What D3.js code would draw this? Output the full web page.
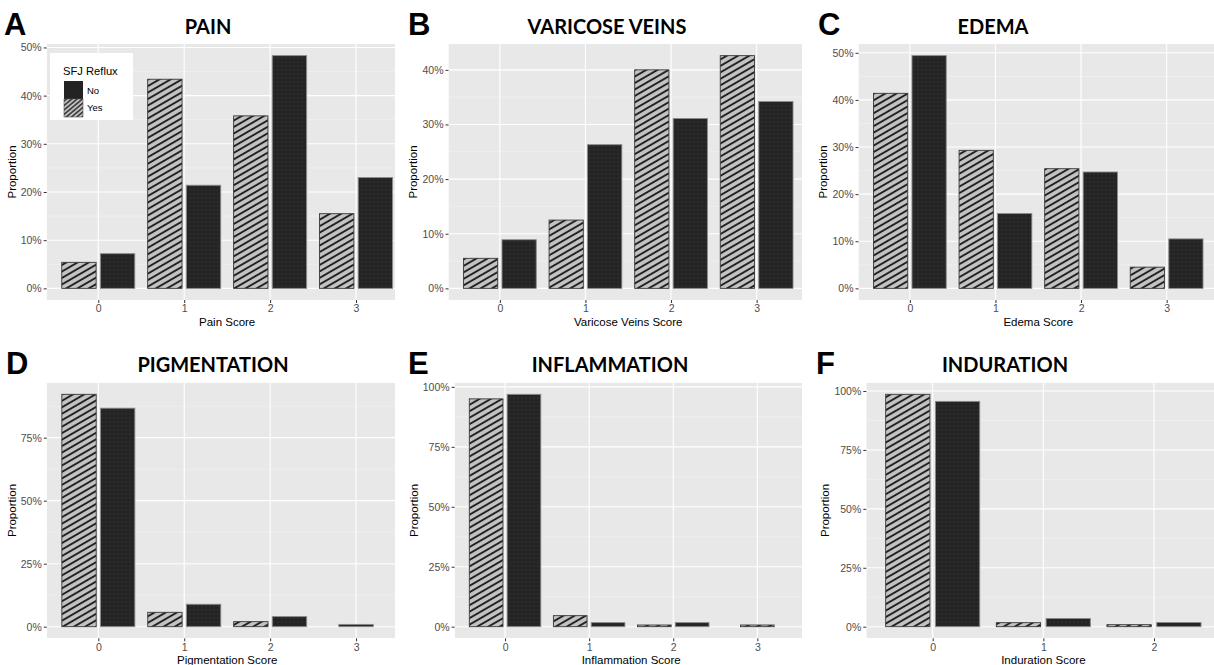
<!DOCTYPE html>
<html>
<head>
<meta charset="utf-8">
<title>SFJ Reflux scores</title>
<script src="https://d3js.org/d3.v7.min.js"></script>
<style>
body { margin: 0; background: #fff; }
svg { display: block; font-family: "Liberation Sans", Arial, sans-serif; }
.tick text { fill: #4d4d4d; font-size: 10.5px; font-family: "Liberation Sans", Arial, sans-serif; }
.tick line { stroke: #333; }
.title { font-family: Lato, "Open Sans", sans-serif; font-weight: 700; font-size: 20px; }
.letter { font-weight: 700; font-size: 31px; }
.axtitle { font-size: 11.5px; fill: #000; }
</style>
</head>
<body>
<script>
// data (percent of limbs)
var groups = ["Yes", "No"];
var scores4 = ["0", "1", "2", "3"];
var scores3 = ["0", "1", "2"];

var painYes = [5.4, 43.4, 35.8, 15.5];
var painNo = [7.2, 21.4, 48.3, 23.0];
var veinsYes = [5.5, 12.5, 40.0, 42.6];
var veinsNo = [8.9, 26.3, 31.1, 34.2];
var edemaYes = [41.4, 29.3, 25.4, 4.5];
var edemaNo = [49.4, 15.9, 24.7, 10.5];
var pigYes = [92.2, 5.7, 2.0, null];
var pigNo = [86.7, 8.9, 4.0, 0.9];
var inflYes = [95.0, 4.6, 0.7, 0.7];
var inflNo = [96.9, 1.7, 1.7, null];
var indYes = [98.6, 1.7, 0.85];
var indNo = [95.6, 3.5, 1.8];

var ticks50 = [0, 10, 20, 30, 40, 50];
var ticks40 = [0, 10, 20, 30, 40];
var ticks75 = [0, 25, 50, 75];
var ticks100 = [0, 25, 50, 75, 100];

// layout of the six panels
var panels = [
  {letter: "A", title: "PAIN", xlab: "Pain Score", cats: scores4, yes: painYes, no: painNo, ticks: ticks50,
   x0: 46.7, x1: 407.6, clip: 395, top: 44, bottom: 300, titleX: 208, letterX: 4, legend: true},
  {letter: "B", title: "VARICOSE VEINS", xlab: "Varicose Veins Score", cats: scores4, yes: veinsYes, no: veinsNo, ticks: ticks40,
   x0: 448.5, x1: 808, clip: 802, top: 44, bottom: 300, titleX: 607, letterX: 408},
  {letter: "C", title: "EDEMA", xlab: "Edema Score", cats: scores4, yes: edemaYes, no: edemaNo, ticks: ticks50,
   x0: 858.5, x1: 1218, clip: 1214, top: 44, bottom: 300, titleX: 993, letterX: 818},
  {letter: "D", title: "PIGMENTATION", xlab: "Pigmentation Score", cats: scores4, yes: pigYes, no: pigNo, ticks: ticks75,
   x0: 46.8, x1: 407.6, clip: 395, top: 382.7, bottom: 638.3, titleX: 213, letterX: 6},
  {letter: "E", title: "INFLAMMATION", xlab: "Inflammation Score", cats: scores4, yes: inflYes, no: inflNo, ticks: ticks100,
   x0: 454.6, x1: 807.8, clip: 802, top: 382.7, bottom: 638.3, titleX: 610, letterX: 408},
  {letter: "F", title: "INDURATION", xlab: "Induration Score", cats: scores3, yes: indYes, no: indNo, ticks: ticks100,
   x0: 866.3, x1: 1220.4, clip: 1214, top: 382.7, bottom: 638.3, titleX: 1005, letterX: 816}
];

var width = 1214, height = 665;
var svg = d3.select("body").append("svg")
  .attr("width", width)
  .attr("height", height);

var defs = svg.append("defs");

var hatch = defs.append("pattern")
  .attr("id", "hatch")
  .attr("patternUnits", "userSpaceOnUse")
  .attr("width", 5.6).attr("height", 5.6)
  .attr("patternTransform", "rotate(-30)");
hatch.append("rect").attr("width", 5.6).attr("height", 5.6).attr("fill", "#c3c3c3");
hatch.append("rect").attr("y", 2).attr("width", 5.6).attr("height", 1.8).attr("fill", "#161616");

var hatchKey = defs.append("pattern")
  .attr("id", "hatchKey")
  .attr("patternUnits", "userSpaceOnUse")
  .attr("width", 3.4).attr("height", 3.4)
  .attr("patternTransform", "rotate(-40)");
hatchKey.append("rect").attr("width", 3.4).attr("height", 3.4).attr("fill", "#c3c3c3");
hatchKey.append("rect").attr("y", 1).attr("width", 3.4).attr("height", 1.3).attr("fill", "#1a1a1a");

var dots = defs.append("pattern")
  .attr("id", "dots")
  .attr("patternUnits", "userSpaceOnUse")
  .attr("width", 4).attr("height", 4);
dots.append("rect").attr("width", 4).attr("height", 4).attr("fill", "#242424");
dots.append("circle").attr("cx", 2).attr("cy", 2).attr("r", 0.7).attr("fill", "#3a3a3a");

var fills = {Yes: "url(#hatch)", No: "url(#dots)"};
var strokes = {Yes: "#3a3a3a", No: "#8a8a8a"};

panels.forEach(function(p, pi) {
  var g = svg.append("g");

  var x = d3.scalePoint()
    .domain(p.cats)
    .range([p.x0, p.x1])
    .padding(0.6);
  var step = x.step();

  var maxVal = d3.max(p.yes.concat(p.no));
  var y = d3.scaleLinear()
    .domain([-0.05 * maxVal, 1.05 * maxVal])
    .range([p.bottom, p.top]);

  // dodge inside one category
  var dodge = d3.scaleBand()
    .domain(groups)
    .range([-0.425 * step, 0.425 * step])
    .paddingInner(0.111);
  var bw = dodge.bandwidth();

  defs.append("clipPath").attr("id", "clip" + pi)
    .append("rect")
    .attr("x", p.x0).attr("y", p.top)
    .attr("width", p.clip - p.x0).attr("height", p.bottom - p.top);

  var plot = g.append("g").attr("clip-path", "url(#clip" + pi + ")");

  plot.append("rect")
    .attr("x", p.x0).attr("y", p.top)
    .attr("width", p.x1 - p.x0).attr("height", p.bottom - p.top)
    .attr("fill", "#e8e8e8");

  // minor grid between major ticks
  var minor = [];
  var tstep = p.ticks[1] - p.ticks[0];
  for (var k = 0; k <= p.ticks.length; k++) {
    var v = p.ticks[0] + (k - 0.5) * tstep;
    if (v > y.domain()[0] && v < y.domain()[1]) minor.push(v);
  }
  plot.selectAll(".minor").data(minor).enter().append("line")
    .attr("x1", p.x0).attr("x2", p.x1)
    .attr("y1", function(d) { return y(d); })
    .attr("y2", function(d) { return y(d); })
    .attr("stroke", "#f4f4f4").attr("stroke-width", 0.6);

  var majors = p.ticks.filter(function(d) { return d <= y.domain()[1]; });
  plot.selectAll(".major").data(majors).enter().append("line")
    .attr("x1", p.x0).attr("x2", p.x1)
    .attr("y1", function(d) { return y(d); })
    .attr("y2", function(d) { return y(d); })
    .attr("stroke", "#fff").attr("stroke-width", 1.1);

  plot.selectAll(".vgrid").data(p.cats).enter().append("line")
    .attr("x1", function(d) { return x(d); })
    .attr("x2", function(d) { return x(d); })
    .attr("y1", p.top).attr("y2", p.bottom)
    .attr("stroke", "#fff").attr("stroke-width", 1.1);

  // bars
  var bars = [];
  p.cats.forEach(function(c, i) {
    var present = groups.filter(function(gr) {
      return (gr === "Yes" ? p.yes[i] : p.no[i]) !== null;
    });
    present.forEach(function(gr) {
      var val = gr === "Yes" ? p.yes[i] : p.no[i];
      var cx = present.length === 2 ? x(c) + dodge(gr) : x(c) - bw / 2;
      bars.push({group: gr, value: val, left: cx});
    });
  });

  plot.selectAll(".bar").data(bars).enter().append("rect")
    .attr("x", function(d) { return d.left; })
    .attr("y", function(d) { return y(d.value); })
    .attr("width", bw)
    .attr("height", function(d) { return Math.max(0.8, y(0) - y(d.value)); })
    .attr("fill", function(d) { return fills[d.group]; })
    .attr("stroke", function(d) { return strokes[d.group]; })
    .attr("stroke-width", 0.9);

  // axes
  var yAxis = g.append("g")
    .attr("transform", "translate(" + p.x0 + ",0)")
    .call(d3.axisLeft(y).tickValues(majors).tickSize(3).tickPadding(2)
      .tickFormat(function(d) { return d + "%"; }));
  yAxis.select(".domain").remove();

  var xAxis = g.append("g")
    .attr("transform", "translate(0," + p.bottom + ")")
    .call(d3.axisBottom(x).tickSize(3).tickPadding(2));
  xAxis.select(".domain").remove();

  var yb = yAxis.node().getBBox();
  g.append("text")
    .attr("class", "axtitle")
    .attr("transform", "translate(" + (p.x0 + yb.x - 5) + "," + ((p.top + p.bottom) / 2) + ") rotate(-90)")
    .attr("text-anchor", "middle")
    .text("Proportion");

  g.append("text")
    .attr("class", "axtitle")
    .attr("x", (p.x0 + p.x1) / 2)
    .attr("y", p.bottom + 25.5)
    .attr("text-anchor", "middle")
    .text(p.xlab);

  g.append("text")
    .attr("class", "title")
    .attr("x", p.titleX)
    .attr("y", p.top - 10.5)
    .attr("text-anchor", "middle")
    .text(p.title);

  g.append("text")
    .attr("class", "letter")
    .attr("x", p.letterX)
    .attr("y", p.top - 9)
    .text(p.letter);

  if (p.legend) {
    var lg = g.append("g").attr("transform", "translate(50,53)");
    lg.append("rect").attr("width", 83).attr("height", 67).attr("fill", "#fff");
    lg.append("text").attr("x", 13).attr("y", 22).style("font-size", "11.2px").text("SFJ Reflux");
    var keys = ["No", "Yes"];
    lg.selectAll(".key").data(keys).enter().append("rect")
      .attr("x", 14)
      .attr("y", function(d, i) { return 28 + i * 18; })
      .attr("width", 19).attr("height", 18)
      .attr("fill", function(d) { return d === "Yes" ? "url(#hatchKey)" : "#232323"; })
      .attr("stroke", function(d) { return d === "Yes" ? "#555" : "none"; })
      .attr("stroke-width", 0.6);
    lg.selectAll(".klab").data(keys).enter().append("text")
      .attr("x", 37)
      .attr("y", function(d, i) { return 40.5 + i * 17.5; })
      .style("font-size", "9.5px")
      .text(function(d) { return d; });
  }
});
</script>
</body>
</html>
